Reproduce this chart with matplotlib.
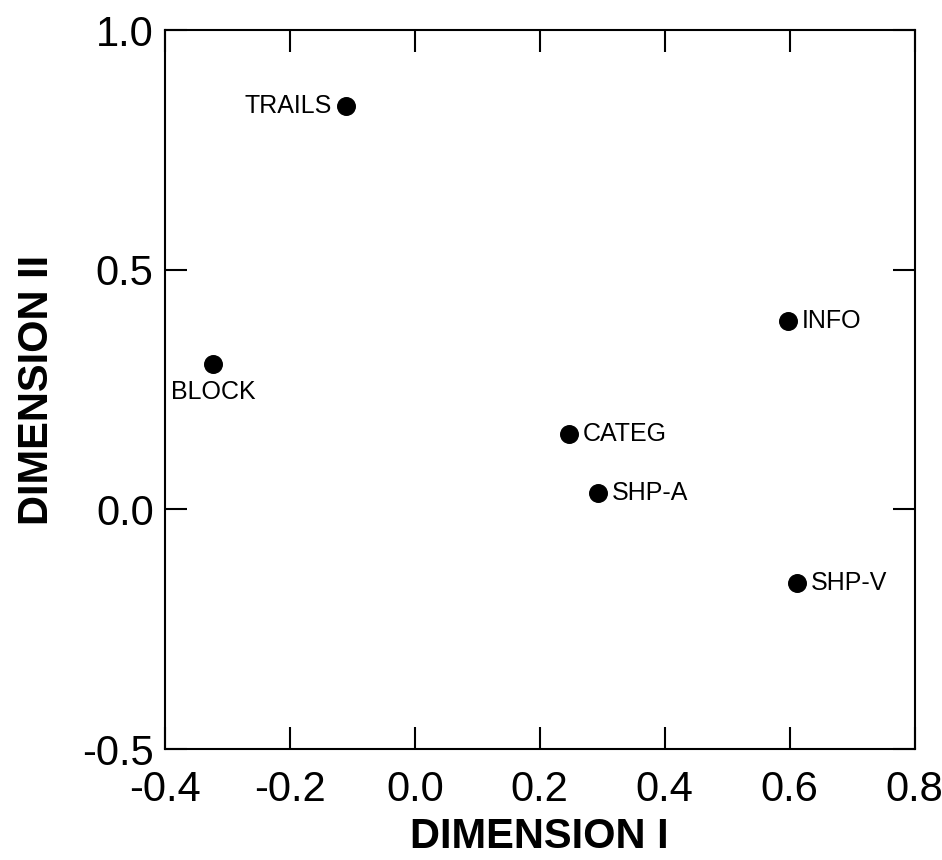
import matplotlib.pyplot as plt

plt.rcParams['font.family'] = ['Liberation Sans', 'DejaVu Sans']

tests = ["TRAILS", "BLOCK", "CATEG", "SHP-A", "INFO", "SHP-V"]
dim1 = [-0.110, -0.323, 0.246, 0.293, 0.597, 0.611]
dim2 = [0.841, 0.304, 0.158, 0.035, 0.394, -0.153]

# where each label sits relative to its dot
label_pos = {
    "TRAILS": ((-10, 0), "right", "center"),
    "BLOCK": ((0, -12), "center", "top"),
    "CATEG": ((10, 0), "left", "center"),
    "SHP-A": ((10, 0), "left", "center"),
    "INFO": ((10, 0), "left", "center"),
    "SHP-V": ((10, 0), "left", "center"),
}

fig = plt.figure(figsize=(9.42, 8.6), dpi=100)
ax = fig.add_axes([0.175, 0.129, 0.796, 0.836])

ax.scatter(dim1, dim2, s=160, color="black", zorder=3)
for name, x, y in zip(tests, dim1, dim2):
    off, ha, va = label_pos[name]
    ax.annotate(name, (x, y), xytext=off, textcoords="offset points",
                ha=ha, va=va, fontsize=18)

ax.set_xlim(-0.4, 0.8)
ax.set_ylim(-0.5, 1.0)
ax.set_xticks([-0.4, -0.2, 0.0, 0.2, 0.4, 0.6, 0.8])
ax.set_yticks([-0.5, 0.0, 0.5, 1.0])
ax.set_xticklabels(["-0.4", "-0.2", "0.0", "0.2", "0.4", "0.6", "0.8"])
ax.set_yticklabels(["-0.5", "0.0", "0.5", "1.0"])
ax.tick_params(direction="in", length=16, width=1.5, labelsize=30,
               top=True, right=True)
ax.tick_params(axis="x", pad=15)
ax.tick_params(axis="y", pad=8)
for sp in ax.spines.values():
    sp.set_linewidth(1.5)

ax.set_xlabel("DIMENSION I", fontsize=30, fontweight="bold", labelpad=5)
ax.set_ylabel("DIMENSION II", fontsize=30, fontweight="bold", labelpad=18)

fig.savefig("out.png", dpi=100)
